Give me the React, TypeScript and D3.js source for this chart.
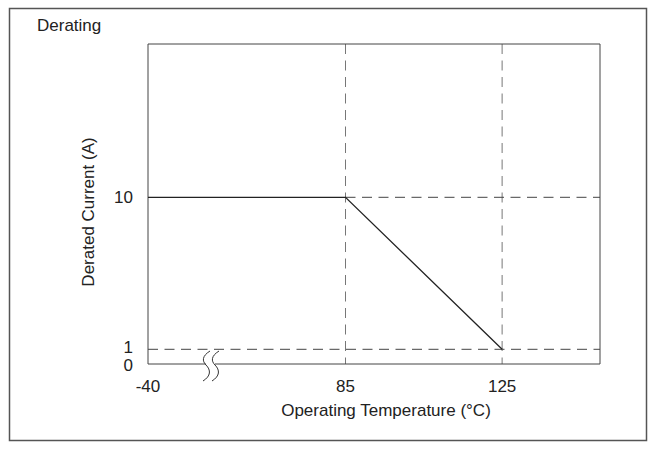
import React from "react";
import * as d3 from "d3";

const temps = [-40, 85, 125];
const currents = [10, 10, 1];
const xTicks = [-40, 85, 125];
const yTicks = [0, 1, 10];
const xGrid = [85, 125];
const yGrid = [1, 10];

const W = 655;
const H = 449;
const plot = { left: 148, right: 600, top: 44, bottom: 364 };
const font = "'Liberation Sans', Arial, sans-serif";

export default function App() {
  // broken x axis: -40 .. 85 compressed, 85 .. 150 linear
  const x = d3.scaleLinear().domain([-40, 85, 150]).range([plot.left, 345.5, plot.right]);
  const y = d3.scaleLinear().domain([0, 1, 10]).range([plot.bottom, 349.3, 197.3]);

  const line = d3
    .line<number>()
    .x((_, i) => x(temps[i]))
    .y((d) => y(d));

  const breakX = 202;
  const breakTop = 351;
  const curve = (ox: number) =>
    `M${ox + 8},${breakTop} C${ox},${breakTop + 5} ${ox},${breakTop + 10} ${ox + 4},${breakTop + 14} C${ox + 9},${breakTop + 19} ${ox + 9},${breakTop + 25} ${ox + 1},${breakTop + 30}`;

  return (
    <svg
      width={W}
      height={H}
      style={{ position: "absolute", left: 0, top: 0, background: "#fff" }}
      fontFamily={font}
    >
      <rect x={9.5} y={8.5} width={637} height={432} fill="none" stroke="#555" strokeWidth={1.5} />
      <text x={37} y={31} fontSize={17} fill="#222">Derating</text>

      {/* grid dashed */}
      {xGrid.map((t) => (
        <line key={"xg" + t} x1={x(t)} x2={x(t)} y1={plot.top} y2={plot.bottom} stroke="#777" strokeWidth={1} strokeDasharray="10,6.5" />
      ))}
      {yGrid.map((v) => (
        <line
          key={"yg" + v}
          x1={v === 10 ? x(85) : plot.left}
          x2={plot.right}
          y1={y(v)}
          y2={y(v)}
          stroke="#444"
          strokeWidth={1}
          strokeDasharray="10,6.5"
        />
      ))}

      {/* plot frame (bottom split for break) */}
      <line x1={plot.left} x2={plot.right} y1={plot.top} y2={plot.top} stroke="#444" />
      <line x1={plot.left} x2={plot.left} y1={plot.top} y2={plot.bottom} stroke="#444" />
      <line x1={plot.right} x2={plot.right} y1={plot.top} y2={plot.bottom} stroke="#444" />
      <line x1={plot.left} x2={breakX + 4} y1={plot.bottom} y2={plot.bottom} stroke="#444" />
      <line x1={breakX + 13} x2={plot.right} y1={plot.bottom} y2={plot.bottom} stroke="#444" />
      <path d={curve(breakX)} fill="none" stroke="#333" strokeWidth={1} />
      <path d={curve(breakX + 9)} fill="none" stroke="#333" strokeWidth={1} />

      {/* derating curve */}
      <path d={line(currents) || ""} fill="none" stroke="#222" strokeWidth={1.3} />

      {/* ticks */}
      {xTicks.map((t) => (
        <text key={"xt" + t} x={x(t)} y={392} fontSize={17} textAnchor="middle" fill="#222">
          {t}
        </text>
      ))}
      {yTicks.map((v) => (
        <text key={"yt" + v} x={133} y={y(v) + (v === 0 ? 1 : v === 1 ? -2 : 0)} fontSize={17} textAnchor="end" dominantBaseline="central" fill="#222">
          {v}
        </text>
      ))}

      <text x={386} y={416} fontSize={17} textAnchor="middle" fill="#222">
        Operating Temperature (°C)
      </text>
      <text
        x={0}
        y={0}
        fontSize={17}
        textAnchor="middle"
        fill="#222"
        transform={`translate(94,212) rotate(-90)`}
      >
        Derated Current (A)
      </text>
    </svg>
  );
}
